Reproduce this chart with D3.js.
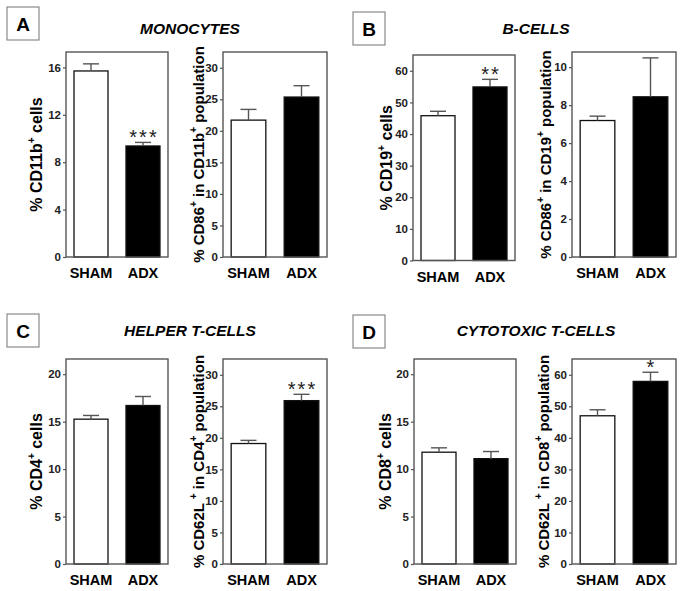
<!DOCTYPE html>
<html><head><meta charset="utf-8">
<script src="https://cdn.jsdelivr.net/npm/d3@7"></script>
<style>
html,body{margin:0;padding:0;background:#fff;}
svg{display:block;font-family:"Liberation Sans",Arial,Helvetica,sans-serif;}
</style></head>
<body><svg id="chart" width="683" height="591"></svg>
<script>
// ---- data ----
const groups = ["SHAM", "ADX"];
const panelLetters = ["A", "B", "C", "D"];
const panelTitles = ["MONOCYTES", "B-CELLS", "HELPER T-CELLS", "CYTOTOXIC T-CELLS"];
const chartLabels = [
  "% CD11b^+^ cells",
  "% CD86^+^ in CD11b^+^ population",
  "% CD19^+^ cells",
  "% CD86^+^ in CD19^+^ population",
  "% CD4^+^ cells",
  "% CD62L ^+^ in CD4^+^ population",
  "% CD8^+^ cells",
  "% CD62L ^+^ in CD8^+^ population"
];
const chartMeans = [[15.7, 9.37], [21.7, 25.36], [45.8, 54.9], [7.19, 8.44],
                    [15.26, 16.7], [19.1, 25.9], [11.78, 11.1], [47.0, 57.9]];
const chartErrors = [[0.6, 0.3], [1.7, 1.8], [1.4, 2.4], [0.23, 2.05],
                     [0.39, 0.95], [0.5, 1.0], [0.46, 0.75], [1.9, 2.9]];
const chartYMax = [17.3, 32.5, 65, 10.8, 21.6, 32.5, 21.6, 65];
const chartTicks = [
  [0, 4, 8, 12, 16],
  [0, 5, 10, 15, 20, 25, 30],
  [0, 10, 20, 30, 40, 50, 60],
  [0, 2, 4, 6, 8, 10],
  [0, 5, 10, 15, 20],
  [0, 5, 10, 15, 20, 25, 30],
  [0, 5, 10, 15, 20],
  [0, 10, 20, 30, 40, 50, 60]
];
const chartStars = [["", "***"], ["", ""], ["", "**"], ["", ""],
                    ["", ""], ["", "***"], ["", ""], ["", "*"]];
const barFills = ["#ffffff", "#000000"];

// ---- layout ----
const frames = [
  {x: 66, w: 102, top: 52, bottom: 257, lab: 42, fs: 16},
  {x: 223, w: 104, top: 52, bottom: 257, lab: 204, fs: 15},
  {x: 413, w: 102, top: 55, bottom: 260.5, lab: 392, fs: 16},
  {x: 572, w: 104, top: 52, bottom: 257, lab: 551, fs: 15},
  {x: 66, w: 102, top: 359, bottom: 564, lab: 42, fs: 16},
  {x: 223, w: 104, top: 359, bottom: 564, lab: 204, fs: 15},
  {x: 414, w: 102, top: 359, bottom: 564, lab: 391, fs: 16},
  {x: 572, w: 104, top: 359, bottom: 564, lab: 549, fs: 15}
];
const letterBoxes = [{x: 7, y: 7}, {x: 353, y: 12}, {x: 7, y: 314}, {x: 353, y: 315}];
const titlePos = [{x: 190, y: 34}, {x: 536, y: 34}, {x: 190, y: 336}, {x: 536, y: 336}];

const svg = d3.select("#chart");

// panel letters
panelLetters.forEach((L, i) => {
  const b = letterBoxes[i];
  svg.append("rect").attr("x", b.x).attr("y", b.y).attr("width", 32).attr("height", 33)
    .attr("fill", "#fff").attr("stroke", "#8a8a8a").attr("stroke-width", 1.2);
  svg.append("text").attr("x", b.x + 16).attr("y", b.y + 24)
    .attr("text-anchor", "middle").attr("font-size", 19).attr("font-weight", "bold")
    .text(L);
  svg.append("text").attr("x", titlePos[i].x).attr("y", titlePos[i].y)
    .attr("text-anchor", "middle").attr("font-size", 15.5).attr("font-weight", "bold")
    .attr("font-style", "italic").text(panelTitles[i]);
});

frames.forEach((f, i) => {
  const g = svg.append("g");
  const x = d3.scaleBand().domain(groups).range([f.x, f.x + f.w])
    .paddingInner(0.346).paddingOuter(0.154);
  const y = d3.scaleLinear().domain([0, chartYMax[i]]).range([f.bottom, f.top]);

  // bars
  g.selectAll("rect.bar").data(groups).join("rect").attr("class", "bar")
    .attr("x", d => x(d)).attr("width", x.bandwidth())
    .attr("y", (d, j) => y(chartMeans[i][j]))
    .attr("height", (d, j) => f.bottom - y(chartMeans[i][j]))
    .attr("fill", (d, j) => barFills[j]).attr("stroke", "#111").attr("stroke-width", 1.3);

  // error bars (upper)
  groups.forEach((d, j) => {
    const cx = x(d) + x.bandwidth() / 2;
    const yT = y(chartMeans[i][j] + chartErrors[i][j]);
    g.append("line").attr("x1", cx).attr("x2", cx)
      .attr("y1", y(chartMeans[i][j])).attr("y2", yT)
      .attr("stroke", "#555").attr("stroke-width", 1.4);
    g.append("line").attr("x1", cx - 8).attr("x2", cx + 8)
      .attr("y1", yT).attr("y2", yT)
      .attr("stroke", "#555").attr("stroke-width", 1.4);
    if (chartStars[i][j]) {
      g.append("text").attr("x", cx + 1).attr("y", yT + 2)
        .attr("text-anchor", "middle").attr("font-size", 20)
        .attr("letter-spacing", 2).attr("fill", "#222")
        .text(chartStars[i][j]);
    }
  });

  // frame
  g.append("rect").attr("x", f.x).attr("y", f.top).attr("width", f.w)
    .attr("height", f.bottom - f.top).attr("fill", "none")
    .attr("stroke", "#555").attr("stroke-width", 1.4);

  // y axis
  const ax = g.append("g").attr("transform", `translate(${f.x},0)`)
    .call(d3.axisLeft(y).tickValues(chartTicks[i]).tickSize(3).tickPadding(2).tickFormat(d3.format("d")));
  ax.select(".domain").remove();
  ax.selectAll(".tick line").attr("stroke", "#555").attr("stroke-width", 1.2);
  ax.selectAll(".tick text").attr("font-size", 11.5).attr("font-weight", "bold")
    .attr("fill", "#222").attr("font-family", "'Liberation Sans',Arial,sans-serif");

  // x labels
  g.selectAll("text.xl").data(groups).join("text").attr("class", "xl")
    .attr("x", d => x(d) + x.bandwidth() / 2).attr("y", f.bottom + 21)
    .attr("text-anchor", "middle").attr("font-size", 14.5).attr("font-weight", "bold")
    .text(d => d);

  // y label with superscripts
  const cy = (f.top + f.bottom) / 2;
  const t = g.append("text").attr("transform", `translate(${f.lab},${cy}) rotate(-90)`)
    .attr("text-anchor", "middle").attr("font-size", f.fs).attr("font-weight", "bold");
  const parts = chartLabels[i].split("^");
  let sup = false;
  parts.forEach((p, k) => {
    if (!p) { return; }
    const isSup = k % 2 === 1;
    const ts = t.append("tspan").text(p);
    if (isSup) { ts.attr("font-size", 10).attr("dy", -7); sup = true; }
    else if (sup) { ts.attr("dy", 7); sup = false; }
  });
});
</script></body></html>
